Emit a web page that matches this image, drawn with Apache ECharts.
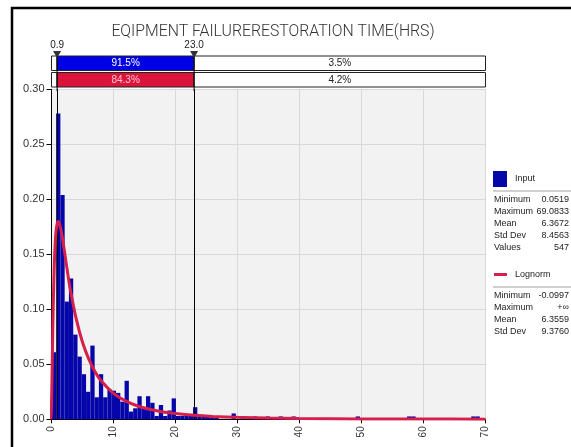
<!DOCTYPE html>
<html><head><meta charset="utf-8">
<script src="https://cdn.jsdelivr.net/npm/echarts@6/dist/echarts.min.js"></script>
<style>html,body{margin:0;padding:0;background:#fff}#c{width:571px;height:447px}</style>
</head><body><div id="c"></div>
<script>
// ---- data ----
const titleText = 'EQIPMENT FAILURERESTORATION TIME(HRS)';
const binMin = 0.0519;
const binWidth = 0.6903;
const inputDensity = [
  0.061, 0.278, 0.204, 0.107, 0.128, 0.077, 0.057, 0.041, 0.025, 0.067,
  0.020, 0.041, 0.020, 0.027, 0.026, 0.024, 0.016, 0.035, 0.007, 0.010,
  0.021, 0.010, 0.021, 0.015, 0.003, 0.013, 0.003, 0.008, 0.019, 0.003,
  0.003, 0.003, 0.003, 0.011, 0.0026, 0.0026, 0.0026, 0.0026, 0.0026, 0,
  0, 0, 0.0053, 0, 0.0026, 0, 0, 0.0026, 0, 0,
  0.0026, 0, 0, 0.0026, 0, 0, 0.0026, 0, 0, 0,
  0, 0, 0, 0, 0, 0, 0, 0, 0, 0,
  0, 0.0026, 0, 0, 0, 0, 0, 0, 0, 0,
  0, 0, 0, 0.0026, 0.0026, 0, 0, 0, 0, 0,
  0, 0, 0, 0, 0, 0, 0, 0, 0.0026, 0.0026
];
const fitX = [-0.0997, 0, 0.1, 0.2, 0.3, 0.5, 0.75, 1.08, 1.5, 2, 2.5, 3, 4, 5, 6, 7, 8, 10, 12, 14, 16, 18, 20, 23, 26, 30, 35, 40, 50, 60, 70];
const fitY = [0, 0.0123, 0.045, 0.079, 0.108, 0.148, 0.172, 0.180, 0.173, 0.156, 0.137, 0.119, 0.091, 0.070, 0.055, 0.0435, 0.035, 0.0236, 0.0165, 0.0119, 0.0089, 0.0067, 0.0052, 0.0036, 0.0026, 0.0018, 0.0011, 0.00075, 0.00037, 0.0002, 0.00012];
const thresholds = [0.9, 23.0];
const thresholdLabels = ['0.9', '23.0'];
const inputPercents = ['', '91.5%', '3.5%'];
const fitPercents = ['', '84.3%', '4.2%'];
const inputStatLabels = ['Minimum', 'Maximum', 'Mean', 'Std Dev', 'Values'];
const inputStatValues = ['0.0519', '69.0833', '6.3672', '8.4563', '547'];
const fitStatLabels = ['Minimum', 'Maximum', 'Mean', 'Std Dev'];
const fitStatValues = ['-0.0997', '+\u221e', '6.3559', '9.3760'];

// ---- build ----
const BLUE = '#0505aa', TOPBLUE = '#0000e6', RED = '#d61f4a', TOPRED = '#dc143c';
const FONT = 'Liberation Sans';
const xMin = 0, xMax = 70;

const binData = [];
inputDensity.forEach((d, i) => { if (d > 0) binData.push([binMin + i * binWidth, binMin + (i + 1) * binWidth, d]); });
const fitData = fitX.map((x, i) => [x, fitY[i]]);

const edges = [xMin].concat(thresholds).concat([xMax]);
const segData = [];
for (let s = 0; s < 3; s++) {
  segData.push([edges[s], edges[s + 1], 1, inputPercents[s], s]);
  segData.push([edges[s], edges[s + 1], 0, fitPercents[s], s]);
}
const markData = thresholds.map((t, i) => [t, thresholdLabels[i]]);

const graphic = [
  { type: 'rect', z: -10, shape: { x: 12, y: 8, width: 620, height: 480 }, style: { fill: 'none', stroke: '#000', lineWidth: 2.5 } },
  { type: 'line', shape: { x1: 493, y1: 191, x2: 571, y2: 191 }, style: { stroke: '#a0a0a0', lineWidth: 1 } },
  { type: 'line', shape: { x1: 493, y1: 287, x2: 571, y2: 287 }, style: { stroke: '#a0a0a0', lineWidth: 1 } }
];
function addStats(labels, values, y0) {
  labels.forEach((l, i) => {
    graphic.push({ type: 'text', style: { text: l, x: 494, y: y0 + i * 11.9, fontSize: 9, fontFamily: FONT, fill: '#222', verticalAlign: 'middle', align: 'left' } });
    graphic.push({ type: 'text', style: { text: values[i], x: 569, y: y0 + i * 11.9, fontSize: 9, fontFamily: FONT, fill: '#222', verticalAlign: 'middle', align: 'right' } });
  });
}
addStats(inputStatLabels, inputStatValues, 199.5);
addStats(fitStatLabels, fitStatValues, 295.5);

const chart = echarts.init(document.getElementById('c'), null, { renderer: 'canvas' });
chart.setOption({
  animation: false,
  backgroundColor: '#fff',
  title: { text: titleText, left: 268, top: 19, textAlign: 'center',
    textStyle: { fontSize: 15.8, fontWeight: 300, fontFamily: 'Roboto', color: '#333' } },
  legend: [
    { data: ['Input'], left: 493, top: 171, padding: 0, icon: 'rect', itemWidth: 14, itemHeight: 16, itemGap: 0, selectedMode: false,
      textStyle: { fontSize: 9, fontFamily: FONT, color: '#222', padding: [0, 0, 0, 3] } },
    { data: ['Lognorm'], left: 494, top: 270, padding: 0, icon: 'rect', itemWidth: 13, itemHeight: 3, itemGap: 0, selectedMode: false,
      textStyle: { fontSize: 9, fontFamily: FONT, color: '#222', padding: [0, 0, 0, 3] } }
  ],
  graphic: graphic,
  grid: [
    { left: 51.5, right: 85.5, top: 89.3, bottom: 27.7, show: true, backgroundColor: '#f2f2f2', borderWidth: 0 },
    { left: 51.5, right: 85.5, top: 56, height: 31, show: false }
  ],
  xAxis: [
    { gridIndex: 0, type: 'value', min: xMin, max: xMax, interval: 10,
      axisLine: { show: true, onZero: false, lineStyle: { color: '#000', width: 1 } },
      axisTick: { show: true, length: 4, lineStyle: { color: '#000' } },
      axisLabel: { rotate: 90, fontSize: 10, fontFamily: FONT, color: '#333', margin: 7 },
      splitLine: { show: true, lineStyle: { color: '#d9d9d9', width: 1 } } },
    { gridIndex: 1, type: 'value', min: xMin, max: xMax, show: false }
  ],
  yAxis: [
    { gridIndex: 0, type: 'value', min: 0, max: 0.30, interval: 0.05,
      axisLine: { show: true, lineStyle: { color: '#000', width: 1 } },
      axisTick: { show: true, length: 5, lineStyle: { color: '#000' } },
      axisLabel: { fontSize: 11, fontFamily: FONT, color: '#333', margin: 7, formatter: v => v.toFixed(2) },
      splitLine: { show: true, lineStyle: { color: '#d9d9d9', width: 1 } } },
    { gridIndex: 1, type: 'value', min: 0, max: 2, show: false }
  ],
  series: [
    { name: 'Input', type: 'custom', xAxisIndex: 0, yAxisIndex: 0, data: binData,
      itemStyle: { color: BLUE }, encode: { x: [0, 1], y: 2 },
      renderItem: function (params, api) {
        const p0 = api.coord([api.value(0), api.value(2)]);
        const p1 = api.coord([api.value(1), 0]);
        return { type: 'rect', shape: { x: p0[0], y: p0[1], width: p1[0] - p0[0], height: p1[1] - p0[1] },
          style: { fill: BLUE } };
      },
      markLine: { silent: true, symbol: 'none', label: { show: false },
        lineStyle: { color: '#000', width: 1, type: 'solid' },
        data: thresholds.map(t => ({ xAxis: t })) }
    },
    { name: 'Lognorm', type: 'line', xAxisIndex: 0, yAxisIndex: 0, data: fitData, smooth: 0.3,
      showSymbol: false, clip: true, itemStyle: { color: RED }, lineStyle: { color: RED, width: 3 }, z: 5 },
    { name: 'bands', type: 'custom', xAxisIndex: 1, yAxisIndex: 1, data: segData, clip: false,
      renderItem: function (params, api) {
        const row = api.value(2);
        const s = api.value(4);
        const p0 = api.coord([api.value(0), row + 1]);
        const p1 = api.coord([api.value(1), row]);
        let fill = '#fff', tc = '#222';
        if (s === 1) { fill = row === 1 ? TOPBLUE : TOPRED; tc = row === 1 ? '#fff' : '#f4c6d0'; }
        const yTop = p0[1] + (row === 0 ? 1 : 0);
        const h = p1[1] - p0[1] - 1;
        const children = [{ type: 'rect', shape: { x: p0[0], y: yTop, width: p1[0] - p0[0], height: h },
          style: { fill: fill, stroke: '#222', lineWidth: 1 } }];
        const label = segData[params.dataIndex][3];
        if (label) children.push({ type: 'text', style: { text: label, x: (p0[0] + p1[0]) / 2, y: yTop + h / 2,
          align: 'center', verticalAlign: 'middle', fontSize: 10, fontFamily: FONT, fill: tc } });
        return { type: 'group', children: children };
      }
    },
    { name: 'marks', type: 'custom', xAxisIndex: 1, yAxisIndex: 1, data: markData, clip: false,
      encode: { x: 0 },
      renderItem: function (params, api) {
        const p = api.coord([api.value(0), 2]);
        const pb = api.coord([api.value(0), 0]);
        return { type: 'group', children: [
          { type: 'line', shape: { x1: p[0], y1: p[1], x2: pb[0], y2: pb[1] + 4 }, style: { stroke: '#000', lineWidth: 1 } },
          { type: 'polygon', shape: { points: [[p[0] - 4, p[1] - 5], [p[0] + 4, p[1] - 5], [p[0], p[1] + 2]] }, style: { fill: '#333' } },
          { type: 'text', style: { text: markData[params.dataIndex][1], x: p[0], y: p[1] - 11, align: 'center',
            verticalAlign: 'middle', fontSize: 10, fontFamily: FONT, fill: '#222' } }
        ] };
      }
    }
  ]
});
</script></body></html>
